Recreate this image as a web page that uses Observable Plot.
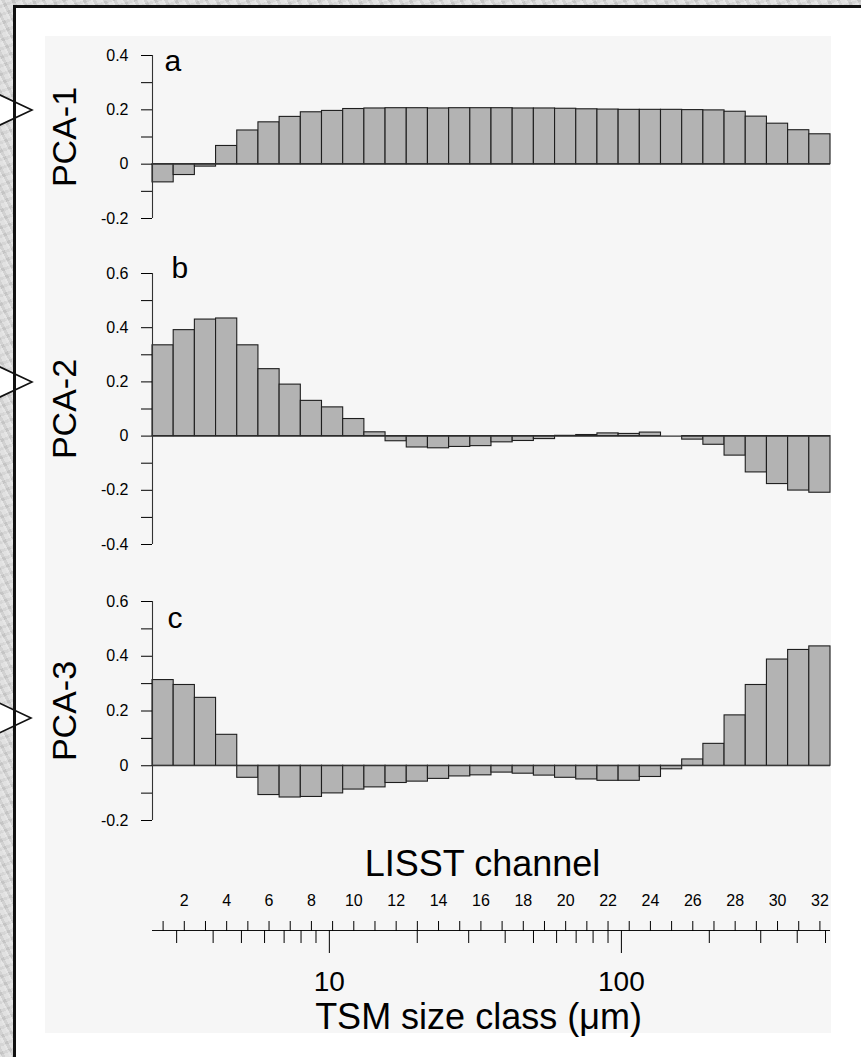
<!DOCTYPE html>
<html>
<head>
<meta charset="utf-8">
<script src="https://cdn.jsdelivr.net/npm/d3@7"></script>
<script src="https://cdn.jsdelivr.net/npm/@observablehq/plot@0.6"></script>
<style>
  html, body { margin: 0; padding: 0; }
  #page {
    position: relative; width: 861px; height: 1057px; overflow: hidden;
    background:
      repeating-linear-gradient(62deg, rgba(255,255,255,0.28) 0 2px, rgba(0,0,0,0.05) 2px 5px, rgba(255,255,255,0.12) 5px 9px),
      repeating-linear-gradient(-20deg, rgba(0,0,0,0.04) 0 3px, rgba(255,255,255,0.15) 3px 8px),
      #d7d7d7;
    font-family: "Liberation Sans", Arial, sans-serif;
  }
  #frame {
    position: absolute; left: 13px; top: 5px; width: 900px; height: 1100px;
    background: #ffffff; border-left: 3px solid #111; border-top: 3px solid #111;
  }
  #panel {
    position: absolute; left: 45px; top: 36px; width: 786px; height: 997px; background: #f6f6f6;
  }
  .abs { position: absolute; left: 0; }
</style>
</head>
<body>
<div id="page">
  <div id="frame"></div>
  <div id="panel"></div>
</div>
<script>
// ---- data ----
const channels = [1,2,3,4,5,6,7,8,9,10,11,12,13,14,15,16,17,18,19,20,21,22,23,24,25,26,27,28,29,30,31,32];
const pca1 = [-0.067,-0.040,-0.009,0.067,0.124,0.154,0.174,0.191,0.196,0.203,0.205,0.206,0.206,0.205,
              0.206,0.206,0.206,0.205,0.205,0.204,0.202,0.201,0.200,0.200,0.200,0.199,0.198,0.193,0.175,0.149,0.125,0.110];
const pca2 = [0.335,0.391,0.430,0.434,0.335,0.247,0.190,0.130,0.106,0.063,0.014,-0.019,-0.042,-0.045,
              -0.040,-0.037,-0.023,-0.018,-0.011,0.001,0.004,0.010,0.008,0.013,0.000,-0.013,-0.032,-0.072,-0.134,-0.177,-0.201,-0.209];
const pca3 = [0.313,0.295,0.248,0.113,-0.044,-0.107,-0.116,-0.114,-0.101,-0.087,-0.079,-0.063,-0.058,-0.048,
              -0.039,-0.035,-0.025,-0.029,-0.036,-0.044,-0.050,-0.055,-0.055,-0.041,-0.013,0.023,0.080,0.184,0.295,0.388,0.423,0.436];
const ticksA = [-0.2,-0.1,0,0.1,0.2,0.3,0.4];
const ticksB = [-0.4,-0.3,-0.2,-0.1,0,0.1,0.2,0.3,0.4,0.5,0.6];
const ticksC = [-0.2,-0.1,0,0.1,0.2,0.3,0.4,0.5,0.6];
const labelsA = [-0.2,0,0.2,0.4];
const labelsB = [-0.4,-0.2,0,0.2,0.4,0.6];
const labelsC = [-0.2,0,0.2,0.4,0.6];
const channelLabels = [2,4,6,8,10,12,14,16,18,20,22,24,26,28,30,32];
const sizeMinor = [3,4,5,6,7,8,9,20,30,40,50,60,70,80,90,200,300,400,500];
const sizeMajor = [10,100];
const sizeDomain = [2.48, 520];
const panelNames = ["PCA-1","PCA-2","PCA-3"];
const panelLetters = ["a","b","c"];

const page = document.getElementById("page");
const FONT = "'Liberation Sans', Arial, sans-serif";
const baseStyle = {background: "transparent", fontFamily: FONT, color: "#000", overflow: "visible"};

function fmtFrom(labels) {
  return d => labels.some(l => Math.abs(l - d) < 1e-9) ? String(+d.toFixed(1)) : "";
}

function panel(values, ticks, labels, name, letter, o) {
  const rows = channels.map((ch, i) => ({ch, v: values[i]}));
  const domain = [d3.min(ticks), d3.max(ticks)];
  const svg = Plot.plot({
    width: 861, height: o.height,
    marginLeft: 152, marginRight: 31, marginTop: o.mt, marginBottom: o.mb,
    style: baseStyle,
    x: {domain: [0.5, 32.5], axis: null},
    y: {domain},
    marks: [
      Plot.rectY(rows, {x1: d => d.ch - 0.5, x2: d => d.ch + 0.5, y: "v",
        fill: "#b3b3b3", stroke: "#1e1e1e", strokeWidth: 1.1}),
      Plot.ruleY([0], {stroke: "#333", strokeWidth: 1.1}),
      Plot.axisY({ticks, tickSize: 11, tickPadding: 13, tickFormat: fmtFrom(labels), fontSize: 16, label: null}),
      Plot.ruleX([0.5], {y1: domain[0], y2: domain[1], stroke: "#333", strokeWidth: 1.1}),
      Plot.text([letter], {frameAnchor: "top-left", dx: o.ldx, dy: o.ldy, lineAnchor: "bottom",
        textAnchor: "start", fontSize: 30}),
      Plot.text([name], {frameAnchor: "left", rotate: -90, dx: -77, lineAnchor: "bottom",
        textAnchor: "middle", fontSize: 34})
    ]
  });
  svg.classList.add("abs");
  svg.style.top = o.top + "px";
  page.appendChild(svg);
}

panel(pca1, ticksA, labelsA, panelNames[0], panelLetters[0], {top: 36, height: 200, mt: 19, mb: 18, ldx: 12, ldy: 15});
panel(pca2, ticksB, labelsB, panelNames[1], panelLetters[1], {top: 236, height: 320, mt: 37, mb: 12, ldx: 19, ldy: 4});
panel(pca3, ticksC, labelsC, panelNames[2], panelLetters[2], {top: 556, height: 280, mt: 45, mb: 16, ldx: 15, ldy: 26});

// channel axis (upper scale)
const chAxis = Plot.plot({
  width: 861, height: 100, marginLeft: 152, marginRight: 31, marginTop: 94, marginBottom: 0,
  style: baseStyle,
  x: {domain: [0.5, 32.5]},
  y: {domain: [0, 1], axis: null},
  marks: [
    Plot.ruleY([1], {stroke: "#111", strokeWidth: 1.2}),
    Plot.axisX({anchor: "top", ticks: channels, tickSize: 10, tickPadding: 15, label: null,
      tickFormat: d => channelLabels.includes(d) ? String(d) : "", fontSize: 16}),
    Plot.text(["LISST channel"], {frameAnchor: "top", dy: -55, dx: -9, lineAnchor: "bottom", fontSize: 36})
  ]
});
chAxis.classList.add("abs");
chAxis.style.top = "836px";
page.appendChild(chAxis);

// size axis (log, lower scale)
const sizeAxis = Plot.plot({
  width: 861, height: 210, marginLeft: 152, marginRight: 31, marginTop: 0, marginBottom: 116,
  style: baseStyle,
  x: {type: "log", domain: sizeDomain},
  marks: [
    Plot.axisX({anchor: "bottom", ticks: sizeMinor, tickSize: 13, tickFormat: () => "", label: null}),
    Plot.axisX({anchor: "bottom", ticks: sizeMajor, tickSize: 23, tickPadding: 18, label: null,
      tickFormat: d => String(d), fontSize: 28}),
    Plot.text(["TSM size class (μm)"], {frameAnchor: "bottom", dy: 98, dx: -13, lineAnchor: "bottom", fontSize: 36})
  ]
});
sizeAxis.classList.add("abs");
sizeAxis.style.top = "836px";
page.appendChild(sizeAxis);

// decorative pointers from the slide and the frame edge drawn over them
const ns = "http://www.w3.org/2000/svg";
const deco = document.createElementNS(ns, "svg");
deco.setAttribute("width", 861); deco.setAttribute("height", 1057);
deco.setAttribute("class", "abs"); deco.style.top = "0px"; deco.style.pointerEvents = "none";
[[32, 110], [32, 382], [31, 718]].forEach(([tx, ty]) => {
  const p = document.createElementNS(ns, "polygon");
  const s = 15 / 32;
  p.setAttribute("points", `-10,${ty - (tx + 10) * s} ${tx},${ty} -10,${ty + (tx + 10) * s}`);
  p.setAttribute("fill", "#fff"); p.setAttribute("stroke", "#111"); p.setAttribute("stroke-width", "1.6");
  deco.appendChild(p);
});
const edge = document.createElementNS(ns, "line");
edge.setAttribute("x1", 14.5); edge.setAttribute("x2", 14.5); edge.setAttribute("y1", 5); edge.setAttribute("y2", 1057);
edge.setAttribute("stroke", "#111"); edge.setAttribute("stroke-width", 3);
deco.appendChild(edge);
page.appendChild(deco);
</script>
</body>
</html>
